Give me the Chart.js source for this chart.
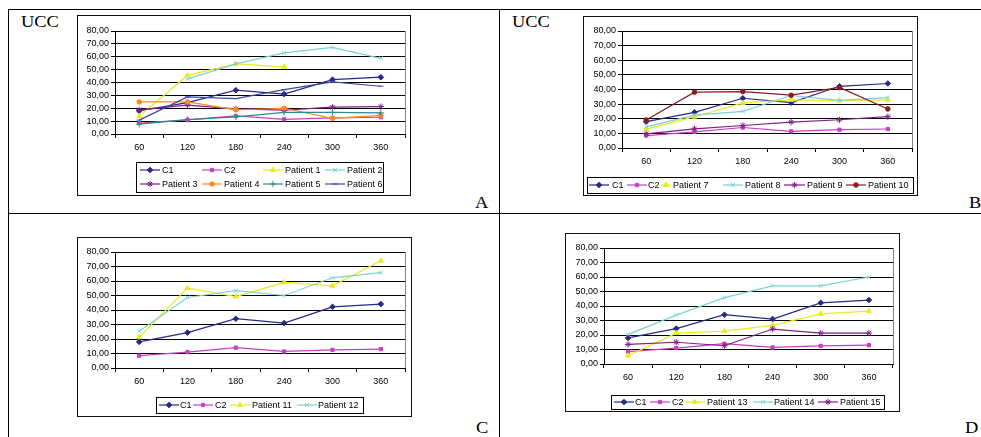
<!DOCTYPE html>
<html><head><meta charset="utf-8">
<script src="https://cdn.jsdelivr.net/npm/chart.js@4.4.1/dist/chart.umd.min.js"></script>
<style>
html,body{margin:0;padding:0;background:#fff;}
body{width:981px;height:437px;overflow:hidden;position:relative;}
.ln{position:absolute;background:#000;}
.wrap{position:absolute;}
.frame{position:absolute;box-sizing:border-box;border:1.5px solid #111;pointer-events:none;}
.lbl{position:absolute;font-family:"Liberation Serif","Times New Roman",serif;font-size:16px;color:#000;line-height:1;transform-origin:left top;transform:scaleX(1.15);white-space:nowrap;}
</style></head><body>
<div class="ln" style="left:8px;top:9px;width:973px;height:1px"></div>
<div class="ln" style="left:8px;top:9px;width:1px;height:428px"></div>
<div class="ln" style="left:499px;top:9px;width:1px;height:428px"></div>
<div class="ln" style="left:8px;top:213px;width:973px;height:1px"></div>

<div class="lbl" style="left:21px;top:14px">UCC</div>
<div class="lbl" style="left:512px;top:14px">UCC</div>
<div class="lbl" style="left:475px;top:195px">A</div>
<div class="lbl" style="left:969px;top:195px">B</div>
<div class="lbl" style="left:476px;top:420px">C</div>
<div class="lbl" style="left:965px;top:420px">D</div>

<div class="wrap" style="left:77px;top:15px;width:334px;height:181px"><canvas id="cA"></canvas></div>
<div class="wrap" style="left:583px;top:16px;width:335px;height:180px"><canvas id="cB"></canvas></div>
<div class="wrap" style="left:77px;top:237px;width:335px;height:180px"><canvas id="cC"></canvas></div>
<div class="wrap" style="left:565px;top:233px;width:335px;height:179px"><canvas id="cD"></canvas></div>
<div class="frame" style="left:77px;top:15px;width:334px;height:181px"></div>
<div class="frame" style="left:583px;top:16px;width:335px;height:180px"></div>
<div class="frame" style="left:77px;top:237px;width:335px;height:180px"></div>
<div class="frame" style="left:565px;top:233px;width:335px;height:179px"></div>

<script>
// ---- data ----
const categories = ['60', '120', '180', '240', '300', '360'];
const yTickLabels = ['0,00', '10,00', '20,00', '30,00', '40,00', '50,00', '60,00', '70,00', '80,00'];

const c1 = [18, 24.4, 34, 31, 42.2, 44.1];
const c2 = [8.5, 11, 14, 11.4, 12.5, 13];
// panel A
const patient1 = [13.8, 45.5, 54.5, 52.2, null, null];
const patient2 = [null, 42.8, 54.5, 63, 67.2, 58.8];
const patient3 = [18.7, 22.5, 19.5, 18.6, 20.8, 21.3];
const patient4 = [24.9, 24.9, 18.8, 20, 12.1, 14.5];
const patient5 = [7.6, 11.2, 13.3, 16.8, 16.8, 16.4];
const patient6 = [10.8, 28.8, 27.5, 34.4, 40.5, 37.1];
// panel B
const patient7 = [12.9, 21.4, 30.8, 32.9, 32.4, 32.9];
const patient8 = [14.5, 22.5, 25, 35.9, 32.6, 34.5];
const patient9 = [9.7, 13.1, 15.4, 17.7, 19.3, 21.4];
const patient10 = [19.1, 38.2, 38.6, 36.1, 41.4, 26.7];
// panel C
const patient11 = [21.2, 55.1, 49.3, 59, 56.7, 74];
const patient12 = [25.4, 48.6, 53.3, 50, 62.2, 65.8];
// panel D
const patient13 = [5.7, 21.3, 22.7, 26.6, 34.6, 36.4];
const patient14 = [20.4, 33.7, 45.8, 53.9, 53.9, 60];
const patient15 = [13.5, 15, 12.6, 24.1, 21.3, 21.3];

// ---- styles ----
const FONT = '"Liberation Sans", Arial, sans-serif';
const ST = {
  navy:   {color:'#262A86', style:'rectRot',  r:2.8},
  mag:    {color:'#CC3DC4', style:'rect',     r:2.3},
  yellow: {color:'#EAEA1E', style:'triangle', r:2.9},
  cyan:   {color:'#7CD3D3', style:'crossRot', r:2.8},
  purple: {color:'#7F1F87', style:'star',     r:3.1},
  orange: {color:'#FF8A1C', style:'circle',   r:2.3},
  teal:   {color:'#2C8C89', style:'cross',    r:3.1},
  blue:   {color:'#3949AB', style:'line',     r:2.6},
  dred:   {color:'#8E1B1B', style:'circle',   r:2.3}
};
function ds(label, data, key, i){
  const s = ST[key];
  return {label, data, borderColor:s.color, backgroundColor:s.color, borderWidth:1.2,
    pointStyle:s.style, pointRadius:s.r, pointBorderWidth:1,
    pointBackgroundColor:s.color, pointBorderColor:s.color, spanGaps:false, tension:0, order:-i};
}

const boxLegend = {
  id:'boxLegend',
  afterDraw(chart, args, o){
    if(!o || !o.box) return;
    const ctx = chart.ctx;
    ctx.save();
    const a = chart.chartArea;
    ctx.strokeStyle = '#808080'; ctx.lineWidth = 1;
    ctx.beginPath(); ctx.moveTo(Math.round(a.right)+0.5, a.top); ctx.lineTo(Math.round(a.right)+0.5, a.bottom); ctx.stroke();
    const [bx,by,bw,bh] = o.box;
    ctx.strokeStyle = '#000'; ctx.lineWidth = 1;
    ctx.strokeRect(bx+0.5, by+0.5, bw, bh);
    o.items.forEach((it, k)=>{
      const d = chart.data.datasets[k];
      ctx.strokeStyle = d.borderColor; ctx.lineWidth = d.borderWidth;
      ctx.beginPath(); ctx.moveTo(it.s, it.y); ctx.lineTo(it.s+it.len, it.y); ctx.stroke();
      ctx.fillStyle = d.pointBackgroundColor; ctx.strokeStyle = d.pointBorderColor;
      ctx.lineWidth = d.pointBorderWidth;
      if (Chart.helpers && Chart.helpers.drawPoint) {
        Chart.helpers.drawPoint(ctx, {pointStyle:d.pointStyle, radius:d.pointRadius, borderWidth:d.pointBorderWidth, rotation:0}, it.s+it.len/2, it.y);
      }
      ctx.fillStyle = '#000'; ctx.font = '9px ' + FONT; ctx.textBaseline = 'middle'; ctx.textAlign = 'left';
      ctx.fillText(d.label, it.t, it.y + 0.5);
    });
    ctx.restore();
  }
};

function makePanel(id, datasets, cfg){
  new Chart(document.getElementById(id), {
    type:'line',
    data:{labels:categories, datasets},
    plugins:[boxLegend],
    options:{
      animation:false, responsive:true, maintainAspectRatio:false,
      layout:{padding:{left:0, top:cfg.top, right:cfg.right, bottom:0}},
      plugins:{legend:{display:false}, tooltip:{enabled:false}, boxLegend:cfg.legend},
      scales:{
        x:{type:'category', offset:true,
           grid:{offset:true, drawOnChartArea:false, drawTicks:true, tickLength:4, color:'#000', lineWidth:1},
           border:{display:true, color:'#000', width:1},
           ticks:{color:'#000', font:{family:FONT, size:9}, padding:4, maxRotation:0, autoSkip:false},
           afterFit:(s)=>{ s.height = cfg.xh; }},
        y:{min:0, max:80,
           grid:{color:'#000', lineWidth:1, tickLength:4, drawTicks:true},
           border:{display:true, color:'#000', width:1},
           ticks:{stepSize:10, autoSkip:false, color:'#000', font:{family:FONT, size:9}, padding:2,
                  callback:(v)=>yTickLabels[Math.round(v/10)]},
           afterFit:(s)=>{ s.width = cfg.yw; }}
      }
    }
  });
}

function gridItems(cols, rows, n){
  const out = [];
  for(let k=0;k<n;k++){
    const c = cols[k % cols.length], r = rows[Math.floor(k / cols.length)];
    out.push({s:c, len:20, t:c+22, y:r});
  }
  return out;
}
function rowItems(starts, lens, texts, y){
  return starts.map((s,k)=>({s, len:lens[k], t:texts[k], y}));
}

makePanel('cA', [
  ds('C1', c1, 'navy', 0), ds('C2', c2, 'mag', 1), ds('Patient 1', patient1, 'yellow', 2),
  ds('Patient 2', patient2, 'cyan', 3), ds('Patient 3', patient3, 'purple', 4),
  ds('Patient 4', patient4, 'orange', 5), ds('Patient 5', patient5, 'teal', 6),
  ds('Patient 6', patient6, 'blue', 7)
], {top:16, right:6, xh:62, yw:38,
    legend:{box:[59,147,247,30], items:gridItems([63,125,186,248],[155,169],8)}});

makePanel('cB', [
  ds('C1', c1, 'navy', 0), ds('C2', c2, 'mag', 1), ds('Patient 7', patient7, 'yellow', 2),
  ds('Patient 8', patient8, 'cyan', 3), ds('Patient 9', patient9, 'purple', 4),
  ds('Patient 10', patient10, 'dred', 5)
], {top:15, right:6, xh:48, yw:39,
    legend:{box:[4,161,326,16], items:rowItems([6,44,78,140,201,263],[20,20,10,20,21,20],[29,65,90,162,224,285],169)}});

makePanel('cC', [
  ds('C1', c1, 'navy', 0), ds('C2', c2, 'mag', 1), ds('Patient 11', patient11, 'yellow', 2),
  ds('Patient 12', patient12, 'cyan', 3)
], {top:15, right:7, xh:49, yw:38,
    legend:{box:[79,160,207,16], items:rowItems([82,116,153,220],[20,20,20,20],[103,138,175,241],168)}});

makePanel('cD', [
  ds('C1', c1, 'navy', 0), ds('C2', c2, 'mag', 1), ds('Patient 13', patient13, 'yellow', 2),
  ds('Patient 14', patient14, 'cyan', 3), ds('Patient 15', patient15, 'purple', 4)
], {top:15, right:7, xh:48, yw:39,
    legend:{box:[46,162,273,14], items:rowItems([49,85,119,188,253],[20,20,21,20,20],[70,107,142,209,275],169)}});
</script>
</body></html>
